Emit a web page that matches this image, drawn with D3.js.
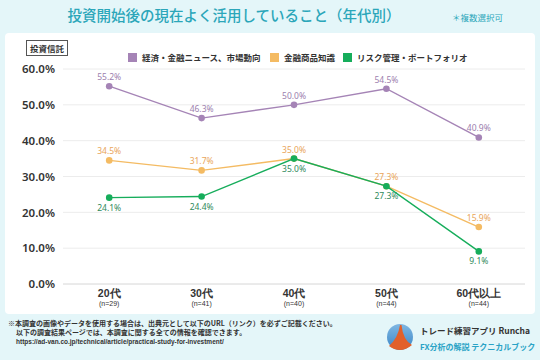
<!DOCTYPE html>
<html><head><meta charset="utf-8">
<script src="https://cdn.jsdelivr.net/npm/d3@7"></script>
<style>
html,body{margin:0;padding:0;background:#e4f6f9;}
svg{display:block;font-family:"Noto Sans CJK JP","Noto Sans",sans-serif;}
</style></head><body>
<svg id="c" width="540" height="360"></svg>
<script>
const categories = ["20代","30代","40代","50代","60代以上"];
const sampleSizes = ["(n=29)","(n=41)","(n=40)","(n=44)","(n=44)"];
const seriesNames = ["経済・金融ニュース、市場動向","金融商品知識","リスク管理・ポートフォリオ"];
const newsValues = [55.2,46.3,50.0,54.5,40.9];
const productValues = [34.5,31.7,35.0,27.3,15.9];
const riskValues = [24.1,24.4,35.0,27.3,9.1];
const yTicks = [0,10,20,30,40,50,60];

const series = [
  {name:seriesNames[0], values:newsValues, color:"#a584b6", label:"#9c80ae", pos:"above"},
  {name:seriesNames[1], values:productValues, color:"#f4bb63", label:"#e9a55a", pos:"above"},
  {name:seriesNames[2], values:riskValues, color:"#16ad5b", label:"#2f8a5c", pos:"below"}
];

const svg = d3.select("#c");
svg.append("rect").attr("x",0).attr("y",0).attr("width",540).attr("height",360).attr("fill","#e4f6f9");
svg.append("rect").attr("x",5).attr("y",33).attr("width",530).attr("height",281).attr("rx",4).attr("fill","#ffffff");

svg.append("text").attr("x",234).attr("y",21).attr("text-anchor","middle")
  .attr("font-size",14.5).attr("font-weight",500).attr("fill","#2ba6b9")
  .text("投資開始後の現在よく活用していること（年代別）");
svg.append("text").attr("x",503).attr("y",21).attr("text-anchor","end")
  .attr("font-size",8.5).attr("fill","#2ba6b9").text("＊複数選択可");

// 投資信託 box
svg.append("rect").attr("x",26.5).attr("y",40.5).attr("width",41).attr("height",15)
  .attr("fill","#fff").attr("stroke","#555").attr("stroke-width",1);
svg.append("text").attr("x",47).attr("y",51.5).attr("text-anchor","middle")
  .attr("font-size",8.5).attr("font-weight",700).attr("fill","#333").text("投資信託");

const x = d3.scaleBand().domain(categories).range([63,525]);
const y = d3.scaleLinear().domain([0,60]).range([284,69]);
const cx = d => x(d) + x.bandwidth()/2;

// grid
const grid = svg.append("g");
grid.selectAll("line").data(yTicks).join("line")
  .attr("x1",63).attr("x2",525).attr("y1",d=>y(d)).attr("y2",d=>y(d))
  .attr("stroke",d=>d===0?"#d6d6d6":"#ececec").attr("stroke-width",1);

// y axis
const yAxis = svg.append("g").attr("transform","translate(55,0)")
  .call(d3.axisLeft(y).tickValues(yTicks).tickSize(0).tickPadding(0).tickFormat(d=>d.toFixed(1)+"%"));
yAxis.select(".domain").remove();
yAxis.selectAll("text").attr("font-size",11.5).attr("font-weight",600).attr("fill","#333")
  .attr("font-family","'Noto Sans','Noto Sans CJK JP',sans-serif");

// x axis
const xAxis = svg.append("g").attr("transform","translate(0,284)")
  .call(d3.axisBottom(x).tickSize(0).tickPadding(0).tickFormat(""));
xAxis.select(".domain").remove();
xAxis.selectAll(".tick text").remove();
const xt = xAxis.selectAll(".tick");
xt.append("text").attr("y",13).attr("text-anchor","middle").attr("font-size",10.5)
  .attr("font-weight",700).attr("fill","#333").text(d=>d);
xt.append("text").attr("y",21.5).attr("text-anchor","middle").attr("font-size",7)
  .attr("fill","#333").text((d,i)=>sampleSizes[i]);

// lines
const line = d3.line().x((d,i)=>cx(categories[i])).y(d=>y(d));
series.forEach(s=>{
  const g = svg.append("g");
  g.append("path").datum(s.values).attr("d",line).attr("fill","none")
    .attr("stroke",s.color).attr("stroke-width",1.4);
  g.selectAll("circle").data(s.values).join("circle")
    .attr("cx",(d,i)=>cx(categories[i])).attr("cy",d=>y(d)).attr("r",3.3).attr("fill",s.color);
  g.selectAll("text").data(s.values).join("text")
    .attr("x",(d,i)=>cx(categories[i]))
    .attr("y",d=>s.pos==="above"? y(d)-6 : y(d)+13)
    .attr("text-anchor","middle").attr("font-size",8.5).attr("fill",s.label)
    .attr("font-family","'Noto Sans','Noto Sans CJK JP',sans-serif")
    .text(d=>d.toFixed(1)+"%");
});

// legend
const legX = [128,270,343];
const leg = svg.append("g");
series.forEach((s,i)=>{
  leg.append("rect").attr("x",legX[i]).attr("y",53).attr("width",9).attr("height",9).attr("fill",s.color);
  leg.append("text").attr("x",legX[i]+14).attr("y",61).attr("font-size",8.5).attr("font-weight",700)
    .attr("fill","#333").text(s.name);
});

// footer
const ft = svg.append("g").attr("fill","#333").attr("font-weight",700);
ft.append("text").attr("x",8).attr("y",326).attr("font-size",7).text("※本調査の画像やデータを使用する場合は、出典元として以下のURL（リンク）を必ずご記載ください。");
ft.append("text").attr("x",16).attr("y",335).attr("font-size",7).text("以下の調査結果ページでは、本調査に関する全ての情報を確認できます。");
ft.append("text").attr("x",16).attr("y",344).attr("font-size",6.5).attr("font-family","'Liberation Sans',Arial,sans-serif")
  .text("https://ad-van.co.jp/technical/article/practical-study-for-investment/");

// logo
const lg = svg.append("g");
const grad = svg.append("defs").append("linearGradient").attr("id","lgd").attr("x1",0).attr("y1",0).attr("x2",0).attr("y2",1);
grad.append("stop").attr("offset","0").attr("stop-color","#7fb7e3");
grad.append("stop").attr("offset","1").attr("stop-color","#3b86c6");
lg.append("circle").attr("cx",400).attr("cy",337).attr("r",13).attr("fill","url(#lgd)");
lg.append("path").attr("d","M400 325 L401.5 325 Q403 340 412 345 Q406 350 400 350 Q394 350 389 346 Q398 338 400 325 Z").attr("fill","#e2602a");
lg.append("text").attr("x",420).attr("y",334).attr("font-size",8.5).attr("font-weight",700).attr("fill","#333")
  .text("トレード練習アプリ Runcha");
lg.append("text").attr("x",420).attr("y",350).attr("font-size",8).attr("font-weight",700).attr("fill","#2aa3c6")
  .text("FX分析の解説 テクニカルブック");
</script>
</body></html>
